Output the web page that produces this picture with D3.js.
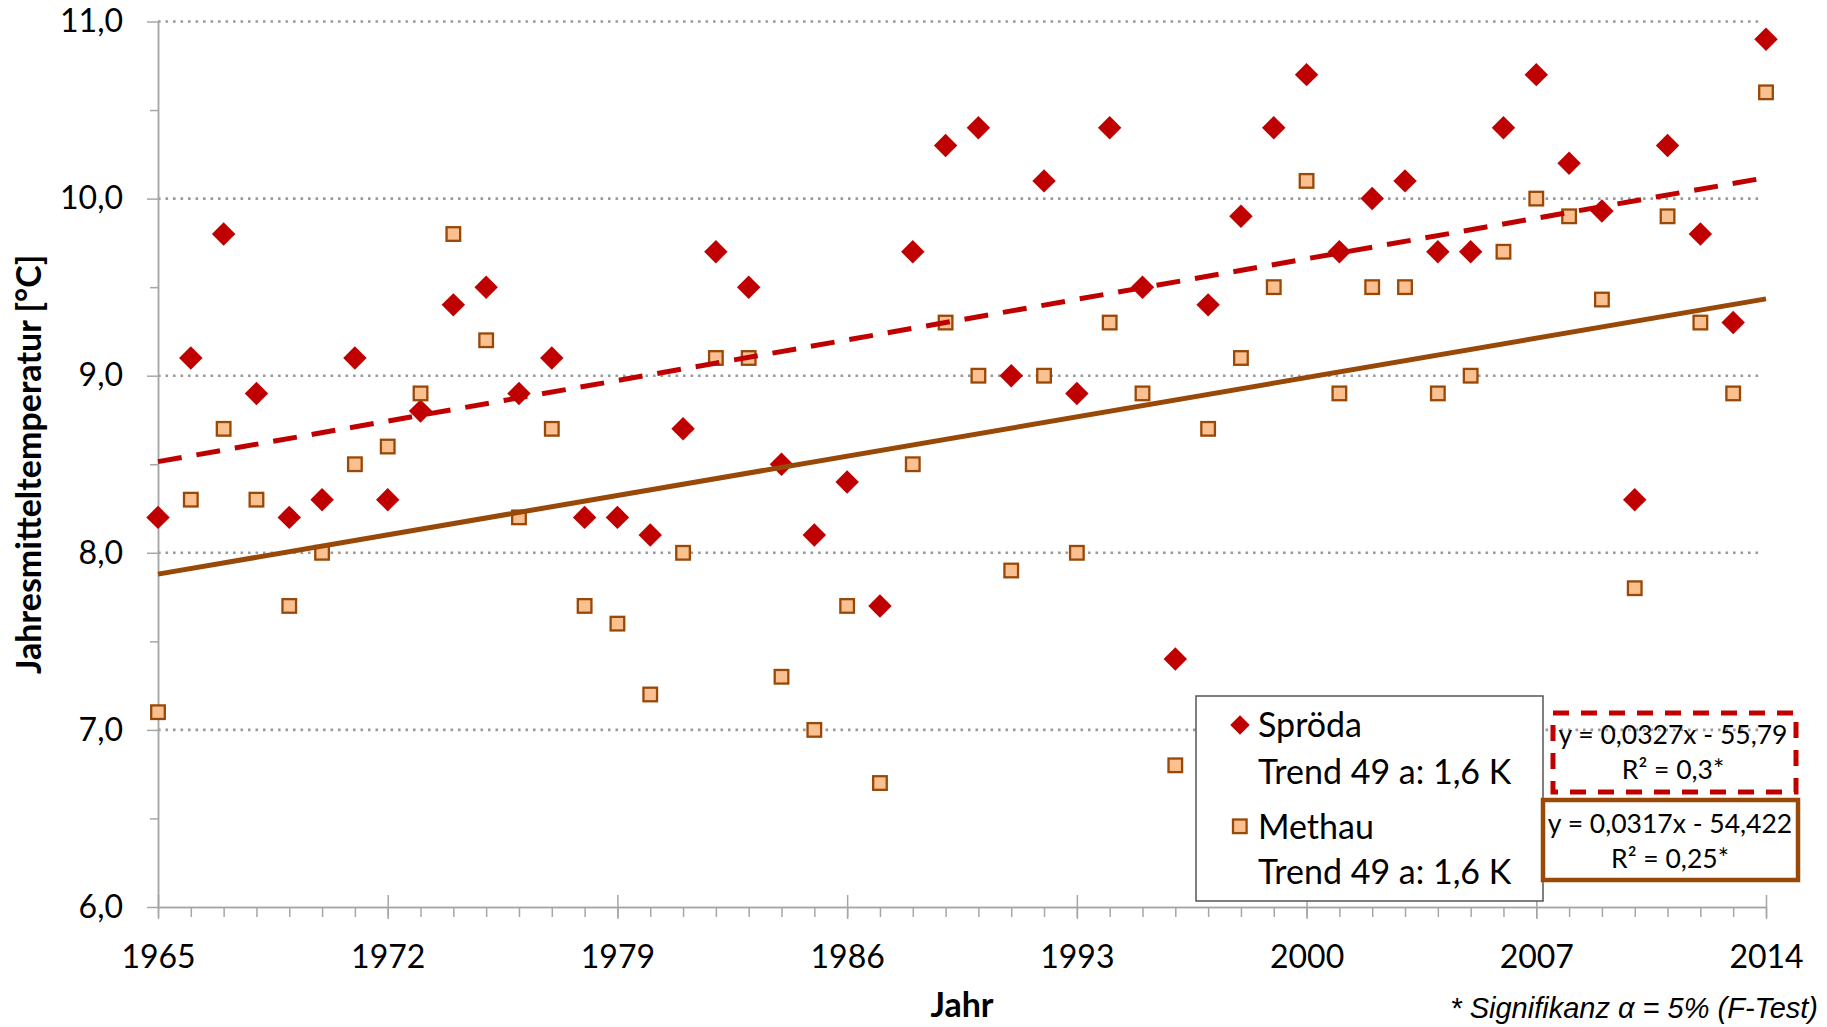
<!doctype html>
<html lang="de">
<head>
    <meta charset="UTF-8">
    <title>Jahresmitteltemperatur Spröda / Methau 1965-2014</title>
    <style>
        body { margin: 0; background: #fff; }
        svg { display: block; font-family: Lato, "Open Sans", sans-serif; }
        .axis path, .axis line { fill: none; stroke: #a6a6a6; stroke-width: 1.5; }
        .axis text { font-size: 32px; fill: #000; font-family: Lato, "Open Sans", sans-serif; }
        .grid line { stroke: #9a9a9a; stroke-width: 2.6; stroke-dasharray: 2.6, 4.9; }
        .eq { font-size: 26.5px; text-anchor: middle; }
        .leg { font-size: 34px; }
    </style>
</head>
<body>
<svg class="chart" width="1827" height="1027"></svg>

<script src="https://d3js.org/d3.v7.min.js"></script>
<script>
    // Jahre
    var years = [1965, 1966, 1967, 1968, 1969, 1970, 1971, 1972, 1973, 1974,
                 1975, 1976, 1977, 1978, 1979, 1980, 1981, 1982, 1983, 1984,
                 1985, 1986, 1987, 1988, 1989, 1990, 1991, 1992, 1993, 1994,
                 1995, 1996, 1997, 1998, 1999, 2000, 2001, 2002, 2003, 2004,
                 2005, 2006, 2007, 2008, 2009, 2010, 2011, 2012, 2013, 2014];

    // Jahresmitteltemperatur [°C]
    var sproeda = [8.2, 9.1, 9.8, 8.9, 8.2, 8.3, 9.1, 8.3, 8.8, 9.4,
                   9.5, 8.9, 9.1, 8.2, 8.2, 8.1, 8.7, 9.7, 9.5, 8.5,
                   8.1, 8.4, 7.7, 9.7, 10.3, 10.4, 9.0, 10.1, 8.9, 10.4,
                   9.5, 7.4, 9.4, 9.9, 10.4, 10.7, 9.7, 10.0, 10.1, 9.7,
                   9.7, 10.4, 10.7, 10.2, 9.93, 8.3, 10.3, 9.8, 9.3, 10.9];

    var methau = [7.1, 8.3, 8.7, 8.3, 7.7, 8.0, 8.5, 8.6, 8.9, 9.8,
                  9.2, 8.2, 8.7, 7.7, 7.6, 7.2, 8.0, 9.1, 9.1, 7.3,
                  7.0, 7.7, 6.7, 8.5, 9.3, 9.0, 7.9, 9.0, 8.0, 9.3,
                  8.9, 6.8, 8.7, 9.1, 9.5, 10.1, 8.9, 9.5, 9.5, 8.9,
                  9.0, 9.7, 10.0, 9.9, 9.43, 7.8, 9.9, 9.3, 8.9, 10.6];

    var xLabelYears = [1965, 1972, 1979, 1986, 1993, 2000, 2007, 2014];
    var yTicks = [6, 7, 8, 9, 10, 11];
    var yMinor = [6.5, 7.5, 8.5, 9.5, 10.5];

    var margin = {top: 21.5, left: 158};
    var width = 1766 - 158, height = 907 - 21.5;

    var x = d3.scaleLinear().domain([1965, 2014]).range([0, width]);
    var y = d3.scaleLinear().domain([6, 11]).range([height, 0]);
    var fmt = function(d) { return d3.format(".1f")(d).replace(".", ","); };

    var svg = d3.select(".chart");
    var g = svg.append("g")
        .attr("transform", "translate(" + margin.left + "," + margin.top + ")");

    // gridlines
    g.append("g").attr("class", "grid")
        .selectAll("line").data(yTicks.slice(1)).enter()
        .append("line")
        .attr("x1", 0).attr("x2", width - 6)
        .attr("y1", function(d) { return y(d); })
        .attr("y2", function(d) { return y(d); });

    // y axis (minor ticks first, then labelled one)
    g.append("g").attr("class", "axis")
        .call(d3.axisLeft(y).tickValues(yMinor).tickSize(8).tickSizeOuter(0).tickFormat(""));
    g.append("g").attr("class", "y axis")
        .call(d3.axisLeft(y).tickValues(yTicks).tickSize(11).tickPadding(24).tickSizeOuter(0).tickFormat(fmt));

    // x axis: minor ticks every year, major ones crossing the axis
    g.append("g").attr("class", "axis")
        .attr("transform", "translate(0," + height + ")")
        .call(d3.axisBottom(x).tickValues(years).tickSize(10).tickSizeOuter(0).tickFormat(""));
    var xAx = g.append("g").attr("class", "x axis")
        .attr("transform", "translate(0," + height + ")")
        .call(d3.axisBottom(x).tickValues(xLabelYears).tickSize(11).tickPadding(27).tickSizeOuter(0).tickFormat(d3.format("d")));
    xAx.selectAll(".tick line").attr("y1", -12).attr("y2", 12);

    // markers
    var diamond = d3.symbol().type(d3.symbolSquare).size(275);
    g.append("g").selectAll("path").data(years).enter()
        .append("path")
        .attr("d", diamond)
        .attr("fill", "#c00000")
        .attr("transform", function(d, i) {
            return "translate(" + x(d) + "," + y(sproeda[i]) + ") rotate(45)";
        });

    g.append("g").selectAll("rect").data(years).enter()
        .append("rect")
        .attr("x", function(d) { return x(d) - 6.8; })
        .attr("y", function(d, i) { return y(methau[i]) - 6.8; })
        .attr("width", 13.6).attr("height", 13.6)
        .attr("fill", "#fac090")
        .attr("stroke", "#984807")
        .attr("stroke-width", 2.3);

    // linear trends (least squares)
    function fit(xs, ys) {
        var mx = d3.mean(xs), my = d3.mean(ys);
        var sxy = d3.sum(xs, function(v, i) { return (v - mx) * (ys[i] - my); });
        var sxx = d3.sum(xs, function(v) { return (v - mx) * (v - mx); });
        var b = sxy / sxx;
        return function(t) { return my + b * (t - mx); };
    }
    var trendS = fit(years, sproeda), trendM = fit(years, methau);
    var ends = [1965, 2014];
    var line = function(f) {
        return d3.line().x(function(d) { return x(d); }).y(function(d) { return y(f(d)); })(ends);
    };
    g.append("path").attr("d", line(trendM))
        .attr("fill", "none").attr("stroke", "#984807").attr("stroke-width", 5);
    g.append("path").attr("d", line(trendS))
        .attr("fill", "none").attr("stroke", "#c00000").attr("stroke-width", 5)
        .attr("stroke-dasharray", "24,15");

    // legend
    var leg = svg.append("g");
    leg.append("rect").attr("x", 1196).attr("y", 696).attr("width", 347).attr("height", 205)
        .attr("fill", "#fff").attr("stroke", "#555").attr("stroke-width", 1.5);
    leg.append("path").attr("d", d3.symbol().type(d3.symbolSquare).size(190))
        .attr("fill", "#c00000").attr("transform", "translate(1240,725) rotate(45)");
    leg.append("rect").attr("x", 1233).attr("y", 819.5).attr("width", 13.6).attr("height", 13.6)
        .attr("fill", "#fac090").attr("stroke", "#984807").attr("stroke-width", 2.3);
    var legText = [["Spröda", 737], ["Trend 49 a: 1,6 K", 784], ["Methau", 839], ["Trend 49 a: 1,6 K", 884]];
    leg.selectAll("text").data(legText).enter().append("text").attr("class", "leg")
        .attr("x", 1258).attr("y", function(d) { return d[1]; })
        .text(function(d) { return d[0]; });

    // regression boxes
    svg.append("rect").attr("x", 1553).attr("y", 713).attr("width", 243).attr("height", 79)
        .attr("fill", "none").attr("stroke", "#c00000").attr("stroke-width", 5)
        .attr("stroke-dasharray", "16,12");
    svg.append("text").attr("class", "eq").attr("x", 1673).attr("y", 744).text("y = 0,0327x - 55,79");
    svg.append("text").attr("class", "eq").attr("x", 1673).attr("y", 779).text("R² = 0,3*");

    svg.append("rect").attr("x", 1543).attr("y", 800).attr("width", 255).attr("height", 80)
        .attr("fill", "none").attr("stroke", "#984807").attr("stroke-width", 4.5);
    svg.append("text").attr("class", "eq").attr("x", 1670).attr("y", 833).text("y = 0,0317x - 54,422");
    svg.append("text").attr("class", "eq").attr("x", 1670).attr("y", 868).text("R² = 0,25*");

    // axis titles
    svg.append("text")
        .attr("transform", "translate(41," + (margin.top + height / 2) + ") rotate(-90)")
        .attr("text-anchor", "middle")
        .attr("font-weight", "bold").attr("font-size", 34)
        .text("Jahresmitteltemperatur [°C]");
    svg.append("text")
        .attr("x", margin.left + width / 2).attr("y", 1017)
        .attr("text-anchor", "middle")
        .attr("font-weight", "bold").attr("font-size", 34)
        .text("Jahr");

    // footnote
    svg.append("text")
        .attr("x", 1818).attr("y", 1018)
        .attr("text-anchor", "end")
        .attr("font-style", "italic").attr("font-size", 29)
        .attr("font-family", "'Liberation Sans', Arial, sans-serif")
        .text("* Signifikanz α = 5% (F-Test)");
</script>
</body>
</html>
